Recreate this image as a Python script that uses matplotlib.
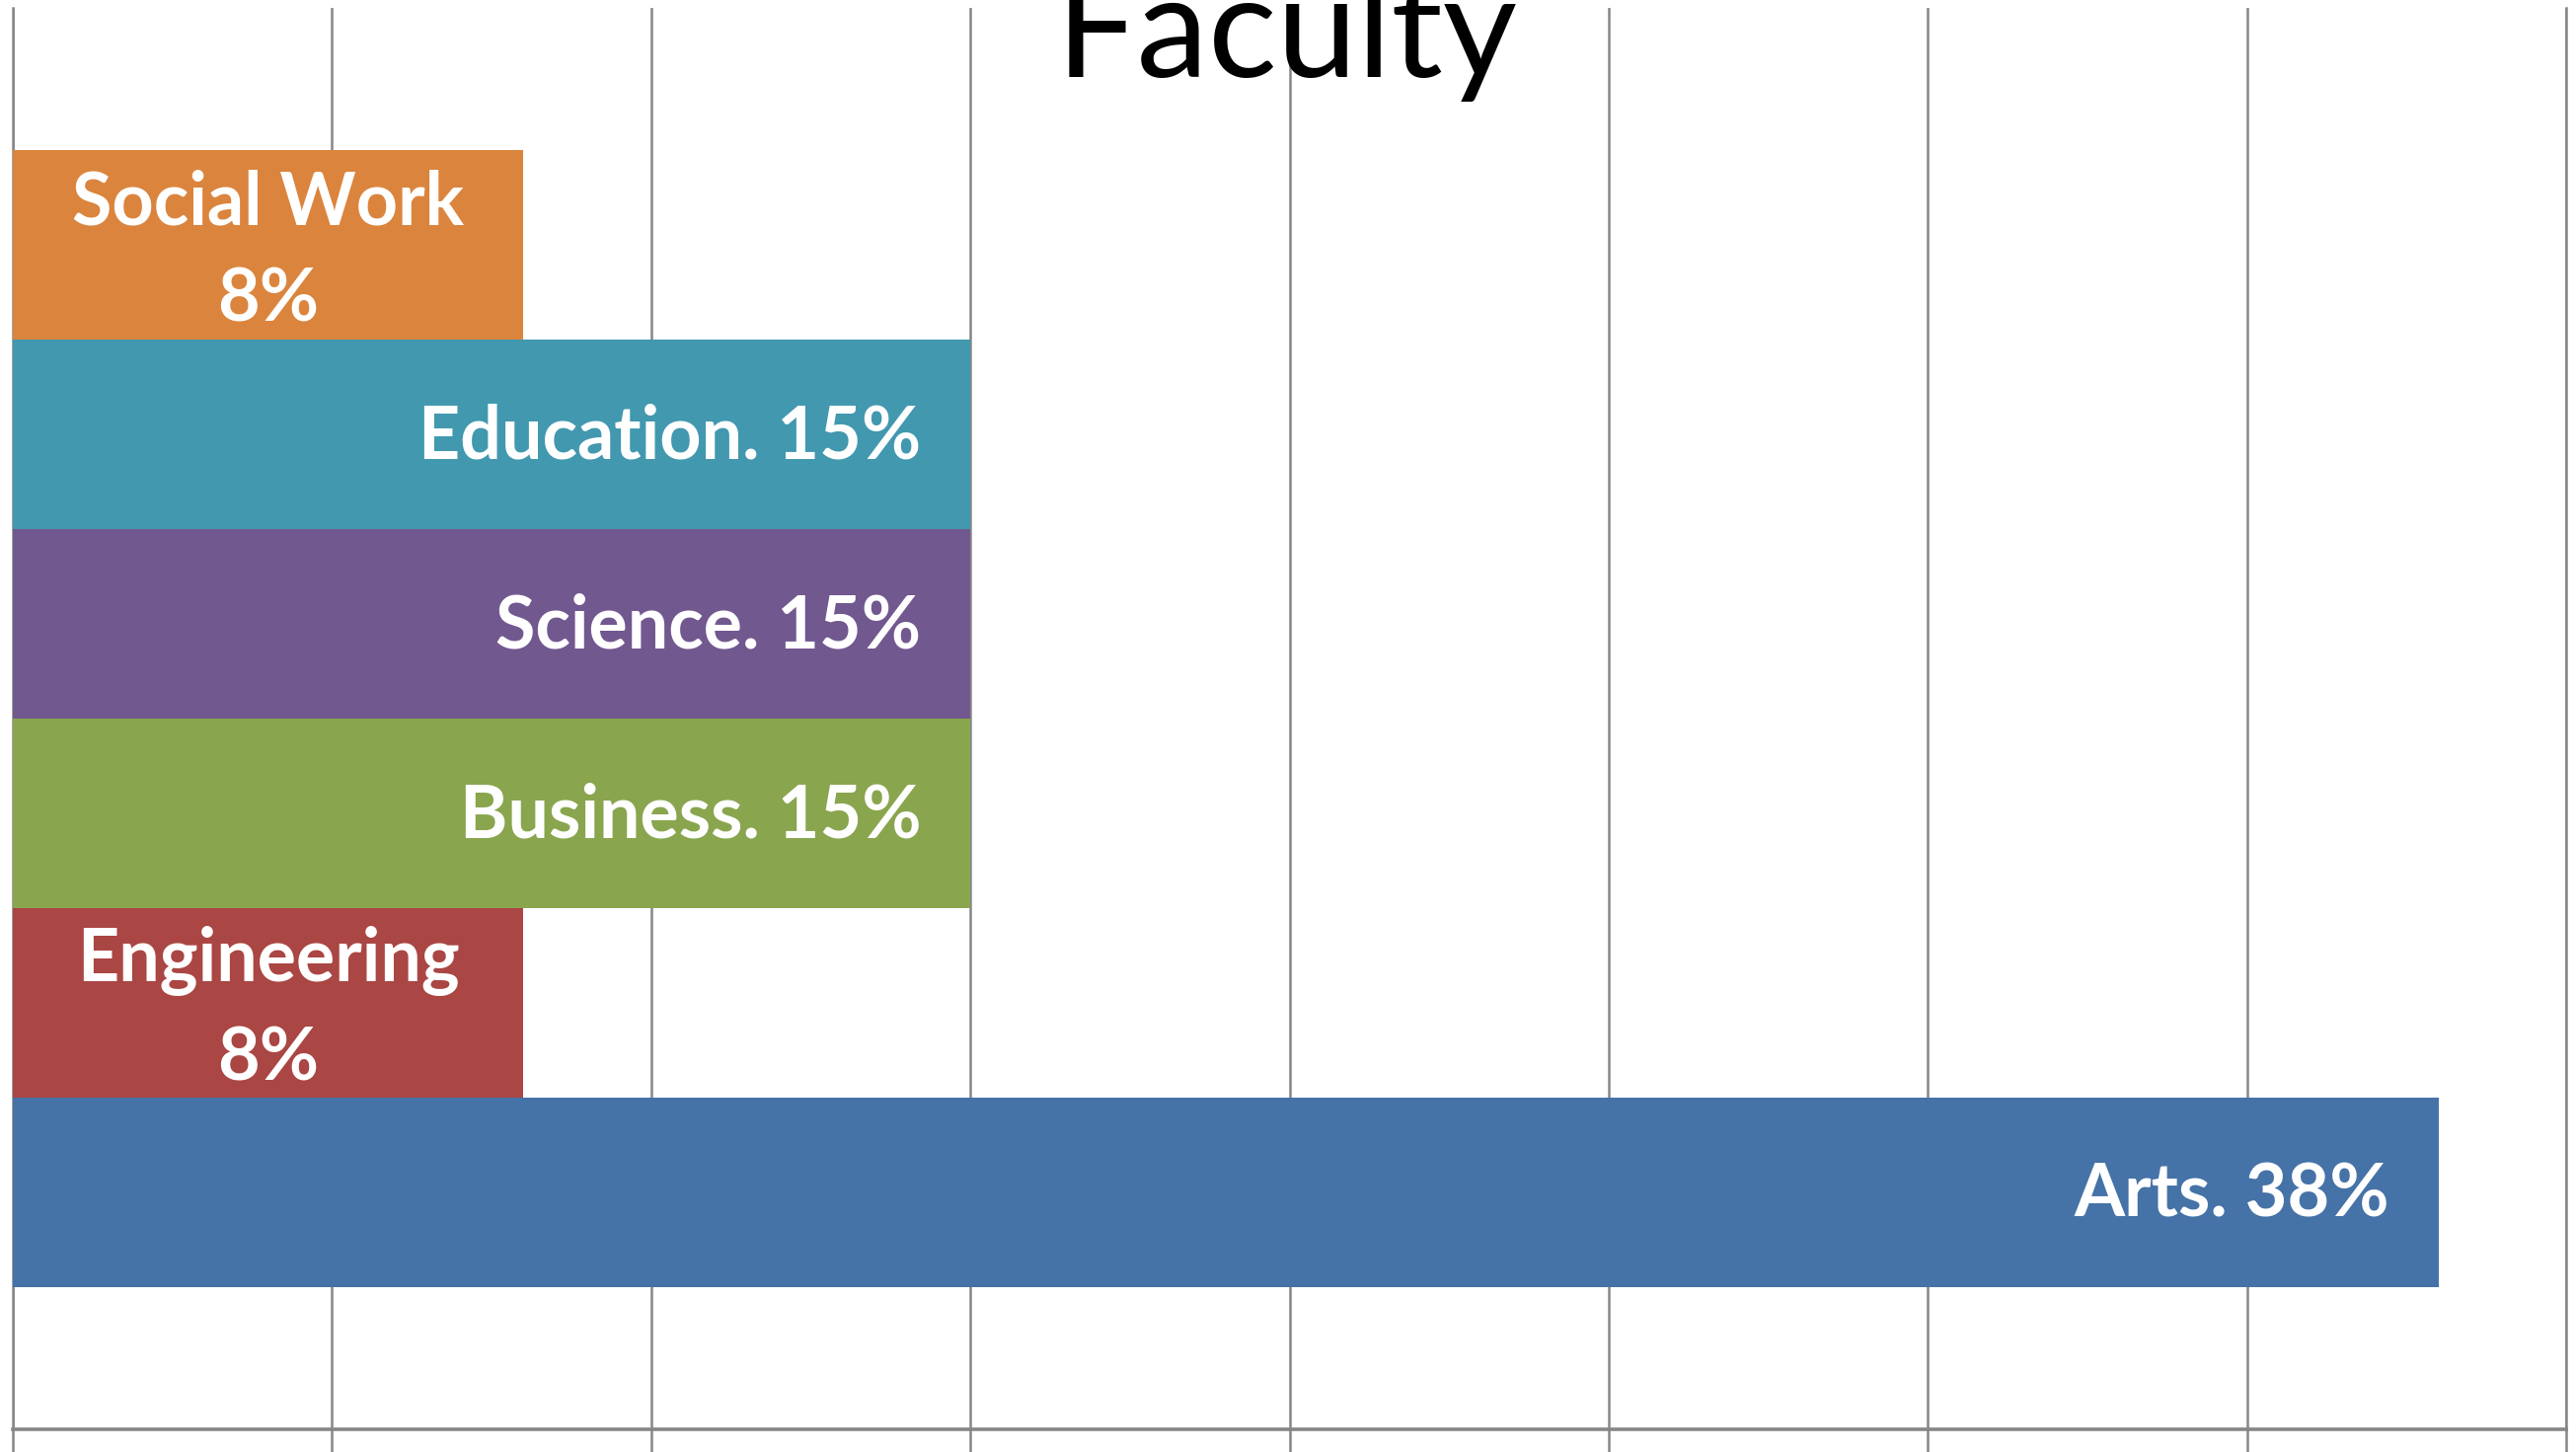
import numpy as np
import matplotlib.pyplot as plt

# bars from bottom to top
faculties = ["Arts", "Engineering", "Business", "Science", "Education", "Social Work"]
shares = [38, 8, 15, 15, 15, 8]
colors = ["#4572A7", "#AA4643", "#89A54E", "#71588F", "#4198AF", "#DB843D"]
two_line = [False, True, False, False, False, True]

grid_col = "#868686"

fig = plt.figure(figsize=(26.1, 14.71), dpi=100)
ax = fig.add_axes([13 / 2610, 23 / 1471, 2587 / 2610, 1440 / 1471])

y = np.arange(len(faculties))
ax.barh(y, shares, height=1.0, color=colors, zorder=3)

ax.set_xlim(0, 40)
ax.set_ylim(-1.25, 6.25)
ax.set_xticks(np.arange(0, 41, 5))
ax.set_xticklabels([])
ax.set_yticks([])
ax.xaxis.grid(True, color=grid_col, lw=1.8, zorder=0)
ax.tick_params(axis="x", direction="out", length=20, width=1.8, color=grid_col)

ax.spines["top"].set_visible(False)
for s in ["left", "right"]:
    ax.spines[s].set_color(grid_col)
    ax.spines[s].set_linewidth(1.8)
ax.spines["bottom"].set_color(grid_col)
ax.spines["bottom"].set_linewidth(2.6)

font = "Lato"
for yi, name, val, tl in zip(y, faculties, shares, two_line):
    if tl:
        ax.annotate(f"{name}\n{val}%", xy=(val / 2, yi), xytext=(0, -5),
                    textcoords="offset points", ha="center", va="center",
                    color="white", fontsize=53, fontweight="bold", family=font,
                    linespacing=1.52, zorder=4)
    else:
        ax.annotate(f"{name}. {val}%", xy=(val, yi), xytext=(-36, -2),
                    textcoords="offset points", ha="right", va="center",
                    color="white", fontsize=53, fontweight="bold", family=font,
                    zorder=4)

fig.text(1304 / 2610, 1 - 78 / 1471, "Faculty", ha="center", va="baseline",
         fontsize=105, family=font, color="black")

fig.savefig("out.png", dpi=100)
